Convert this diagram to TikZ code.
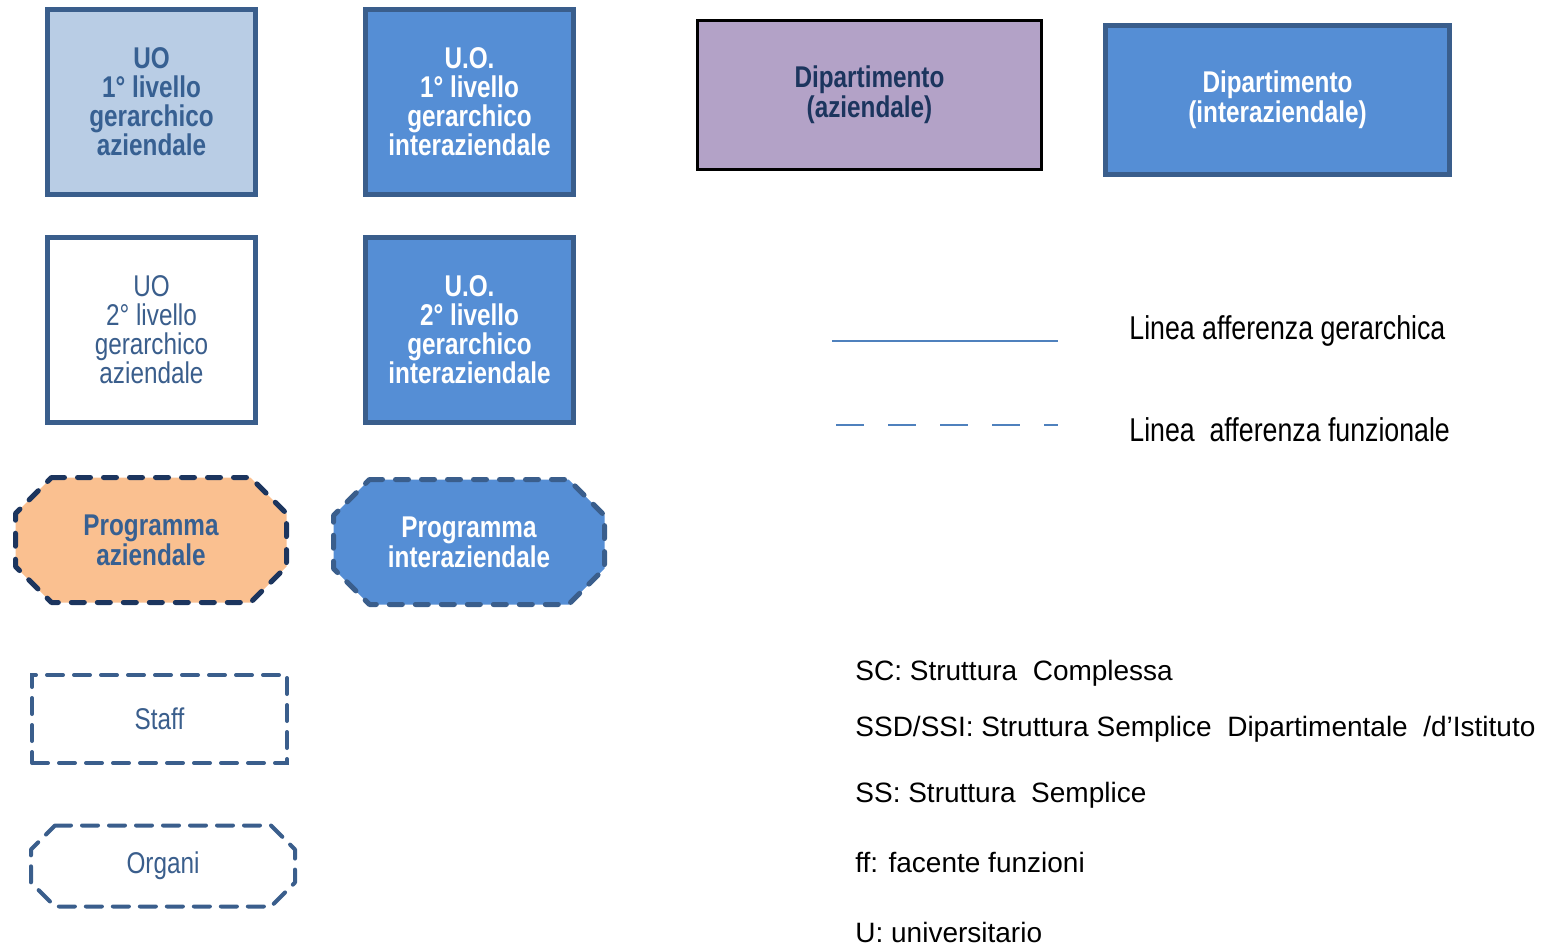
\documentclass[tikz,border=0pt]{standalone}
\usepackage{fontspec}
\setmainfont{Liberation Sans}
\newfontfamily\nfont[FakeStretch=0.81]{Liberation Sans}
\usetikzlibrary{calc,backgrounds}
\definecolor{bordc}{HTML}{3A5E8C}
\definecolor{navyc}{HTML}{1C355E}
\definecolor{lightb}{HTML}{B9CDE5}
\definecolor{midb}{HTML}{558ED5}
\definecolor{txtb}{HTML}{376092}
\definecolor{orangec}{HTML}{FAC090}
\definecolor{purplec}{HTML}{B3A2C7}
\definecolor{linec}{HTML}{4F81BD}
\newcommand\octpath[2]{($(#1.north west)+(#2,0)$) -- ($(#1.north east)+(-#2,0)$) -- ($(#1.north east)+(0,#2)$) -- ($(#1.south east)+(0,-#2)$) -- ($(#1.south east)+(-#2,0)$) -- ($(#1.south west)+(#2,0)$) -- ($(#1.south west)+(0,-#2)$) -- ($(#1.north west)+(0,#2)$) -- cycle}
\begin{document}
\begin{tikzpicture}[x=0.5pt,y=-0.5pt,
  boxfont/.style={font=\nfont\fontsize{15}{14.5}\selectfont},
  boldfont/.style={font=\nfont\bfseries\fontsize{15}{14.5}\selectfont},
  uobox/.style={draw=bordc, line width=2.5pt, minimum width=104pt, minimum height=92.5pt, align=center, inner sep=0pt},
  depbox/.style={minimum width=172pt, minimum height=74.5pt, align=center, inner sep=0pt, font=\nfont\bfseries\fontsize{15}{15}\selectfont},
  oct/.style={minimum width=135.5pt, minimum height=62.5pt, align=center, inner sep=0pt, outer sep=0pt, font=\nfont\bfseries\fontsize{15}{15}\selectfont},
  octline/.style={line width=2.5pt, dash pattern=on 6.5pt off 6.5pt, line cap=round, line join=round},
  thinoct/.style={line width=2pt, dash pattern=on 8pt off 5.5pt, line cap=round, line join=round, draw=bordc},
  legtext/.style={anchor=west, inner sep=0pt, font=\nfont\fontsize{16.5}{18}\selectfont},
  keytext/.style={anchor=base west, inner sep=0pt, font=\fontsize{14}{16}\selectfont}
]
\useasboundingbox (0,0) rectangle (1548,947);

% UO boxes
\node[uobox, fill=lightb, text=txtb, boldfont] (b1) at (151.5,102) {UO\\1° livello\\gerarchico\\aziendale};
\node[uobox, fill=midb, text=white, boldfont] (b2) at (469.5,102) {U.O.\\1° livello\\gerarchico\\interaziendale};
\node[uobox, fill=white, text=bordc, boxfont] (b3) at (151.5,329.5) {UO\\2° livello\\gerarchico\\aziendale};
\node[uobox, fill=midb, text=white, boldfont] (b4) at (469.5,329.5) {U.O.\\2° livello\\gerarchico\\interaziendale};

% Programmi
\node[oct, text=txtb] (p1) at (151,540) {Programma\\aziendale};
\node[oct, text=white] (p2) at (469,542) {Programma\\interaziendale};
\begin{scope}[on background layer]
\filldraw[octline, fill=orangec, draw=navyc] \octpath{p1}{36};
\filldraw[octline, fill=midb, draw=bordc] \octpath{p2}{36};
\end{scope}

% Staff
\node[draw=bordc, line width=2pt, dash pattern=on 8pt off 5.5pt, line cap=round, minimum width=127.5pt, minimum height=44pt, inner sep=0pt, text=bordc, boxfont] (staff) at (159.5,719) {Staff};

% Organi
\node[minimum width=132pt, minimum height=40.5pt, inner sep=0pt, outer sep=0pt, text=bordc, boxfont] (org) at (163,866) {Organi};
\draw[thinoct] \octpath{org}{24};

% Dipartimenti
\node[depbox, draw=black, line width=1.5pt, fill=purplec, text=navyc] (d1) at (869.5,95) {Dipartimento\\(aziendale)};
\node[depbox, draw=bordc, line width=2.5pt, fill=midb, text=white] (d2) at (1277.5,100) {Dipartimento\\(interaziendale)};

% legend lines
\coordinate (s1) at (832,341);
\coordinate (s2) at (1058,341);
\coordinate (f1) at (836,425);
\coordinate (f2) at (1058,425);
\draw[linec, line width=1pt] (s1) -- (s2);
\draw[linec, line width=1pt, dash pattern=on 14pt off 12pt] (f1) -- (f2);
\node[legtext] (lg) at (1129,331) {Linea afferenza gerarchica};
\node[legtext] (lf) at (1129,430) {Linea\ \ afferenza funzionale};

% key
\node[keytext] (k1) at (855,680) {SC: Struttura\ \ Complessa};
\node[keytext] (k2) at (855,736) {SSD/SSI: Struttura Semplice\ \ Dipartimentale\ \ /d’Istituto};
\node[keytext] (k3) at (855,802) {SS: Struttura\ \ Semplice};
\node[keytext] (k4) at (855,872) {ff: facente funzioni};
\node[keytext] (k5) at (855,942) {U:\ universitario};
\end{tikzpicture}
\end{document}
